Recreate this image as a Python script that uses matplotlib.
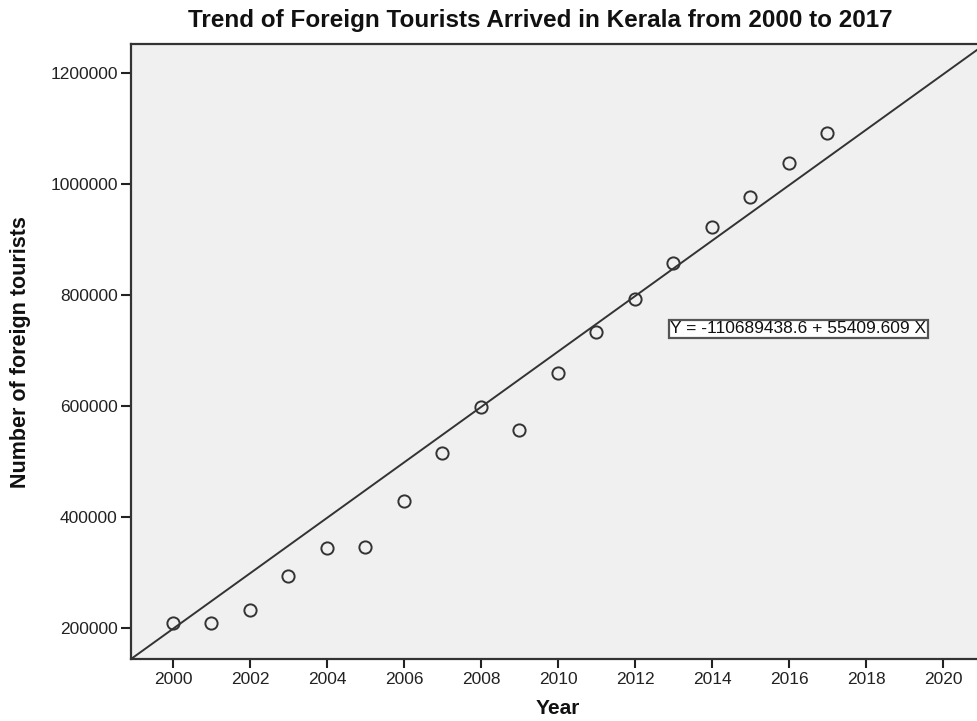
import numpy as np
import matplotlib
matplotlib.use("Agg")
import matplotlib.pyplot as plt

plt.rcParams['font.family'] = ['Liberation Sans', 'DejaVu Sans']

years = [2000, 2001, 2002, 2003, 2004, 2005, 2006, 2007, 2008, 2009,
         2010, 2011, 2012, 2013, 2014, 2015, 2016, 2017]
tourists = [209933, 208830, 232564, 294621, 345546, 346499, 428534, 515808,
            598929, 557258, 659265, 732985, 793696, 858143, 923366, 977479,
            1038419, 1091870]
equation_label = 'Y = -110689438.6 + 55409.609 X'
# fit line as drawn in the picture: value at year 2000 and slope per year
line_at_2000 = 199100
line_slope = 49945
xticks = [2000, 2002, 2004, 2006, 2008, 2010, 2012, 2014, 2016, 2018, 2020]
yticks = [200000, 400000, 600000, 800000, 1000000, 1200000]

W, H = 977, 721
fig = plt.figure(figsize=(W / 100, H / 100), dpi=100)
L, R, T, B = 131, 979, 44, 659
ax = fig.add_axes([L / W, 1 - B / H, (R - L) / W, (B - T) / H])
ax.set_facecolor('#f0f0f0')

xmin, xmax = 1998.91, 2000 + (R - 173) / 38.5
ymin, ymax = 144700, 1252800
ax.set_xlim(xmin, xmax)
ax.set_ylim(ymin, ymax)

xs = np.array([xmin, xmax])
ax.plot(xs, line_at_2000 + line_slope * (xs - 2000), color='#333333', lw=1.4, zorder=2)
ax.plot(years, tourists, linestyle='none', marker='o', markersize=8.8,
        markerfacecolor='none', markeredgecolor='#333333', markeredgewidth=1.4, zorder=3)

ax.text(2012.92, 739300, equation_label, fontsize=12.5,
        ha='left', va='center', color='#111111',
        bbox=dict(boxstyle='square,pad=0.08', facecolor='white', edgecolor='#555555', lw=1.6))

ax.set_xticks(xticks)
ax.set_xticklabels([str(v) for v in xticks])
ax.set_yticks(yticks)
ax.set_yticklabels([str(v) for v in yticks])
ax.tick_params(axis='x', direction='out', length=6.5, width=1.5, colors='#222222',
               labelsize=12.5, labelcolor='#222222', pad=3)
ax.tick_params(axis='y', direction='out', length=7.5, width=1.5, colors='#222222',
               labelsize=12.5, labelcolor='#222222', pad=2)
for s in ax.spines.values():
    s.set_color('#333333')
    s.set_linewidth(1.6)

fig.text(558 / W, 1 - 708 / H, 'Year', ha='center', va='center',
         fontsize=15, fontweight='bold', color='#111111')
fig.text(21 / W, 1 - 352 / H, 'Number of foreign tourists', ha='center', va='center',
         rotation=90, fontsize=15.5, fontweight='bold', color='#111111')
fig.text(540 / W, 1 - 20 / H, 'Trend of Foreign Tourists Arrived in Kerala from 2000 to 2017',
         ha='center', va='center', fontsize=17.5, fontweight='bold', color='#111111')

fig.savefig('out.png', dpi=100)
